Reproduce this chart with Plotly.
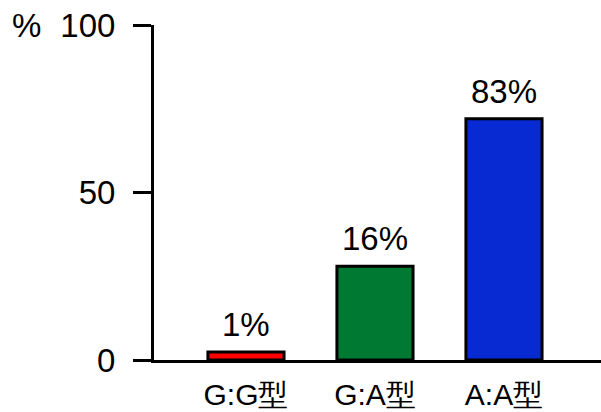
import plotly.graph_objects as go

categories = ["G:G型", "G:A型", "A:A型"]
values = [2.4, 28, 72]
labels = ["1%", "16%", "83%"]
colors = ["#FF0000", "#007A33", "#082AD2"]
y_ticks = [0, 50, 100]

FONT = "Liberation Sans, Arial, sans-serif"

fig = go.Figure()
fig.add_trace(go.Bar(
    x=list(range(len(categories))), y=values,
    marker=dict(color=colors, line=dict(color="black", width=3)),
    width=0.59,
))
for i, (v, t) in enumerate(zip(values, labels)):
    fig.add_annotation(x=i, y=v, text=t, showarrow=False, yanchor="bottom",
                       yshift=7, font=dict(size=33, color="black", family=FONT))
fig.add_annotation(xref="paper", yref="paper", x=-0.286, y=1.0,
                   text="%", showarrow=False, xanchor="center", yanchor="middle",
                   font=dict(size=33, color="black", family=FONT))

fig.update_layout(
    width=601, height=412,
    margin=dict(l=154, r=0, t=25, b=52),
    plot_bgcolor="white", paper_bgcolor="white",
    showlegend=False,
    font=dict(family=FONT, size=33, color="black"),
    xaxis=dict(
        range=[-0.713, 2.752], automargin=False,
        tickvals=list(range(len(categories))), ticktext=categories,
        showline=True, linecolor="black", linewidth=3,
        ticks="", showgrid=False, zeroline=False,
        ticklabelstandoff=6, tickfont=dict(size=30),
    ),
    yaxis=dict(
        range=[0, 100], tickvals=y_ticks, automargin=False,
        showline=True, linecolor="black", linewidth=3,
        ticks="outside", ticklen=18, tickwidth=3, tickcolor="black",
        showgrid=False, zeroline=False, ticklabelstandoff=11,
    ),
)
fig.write_html("out.html")
